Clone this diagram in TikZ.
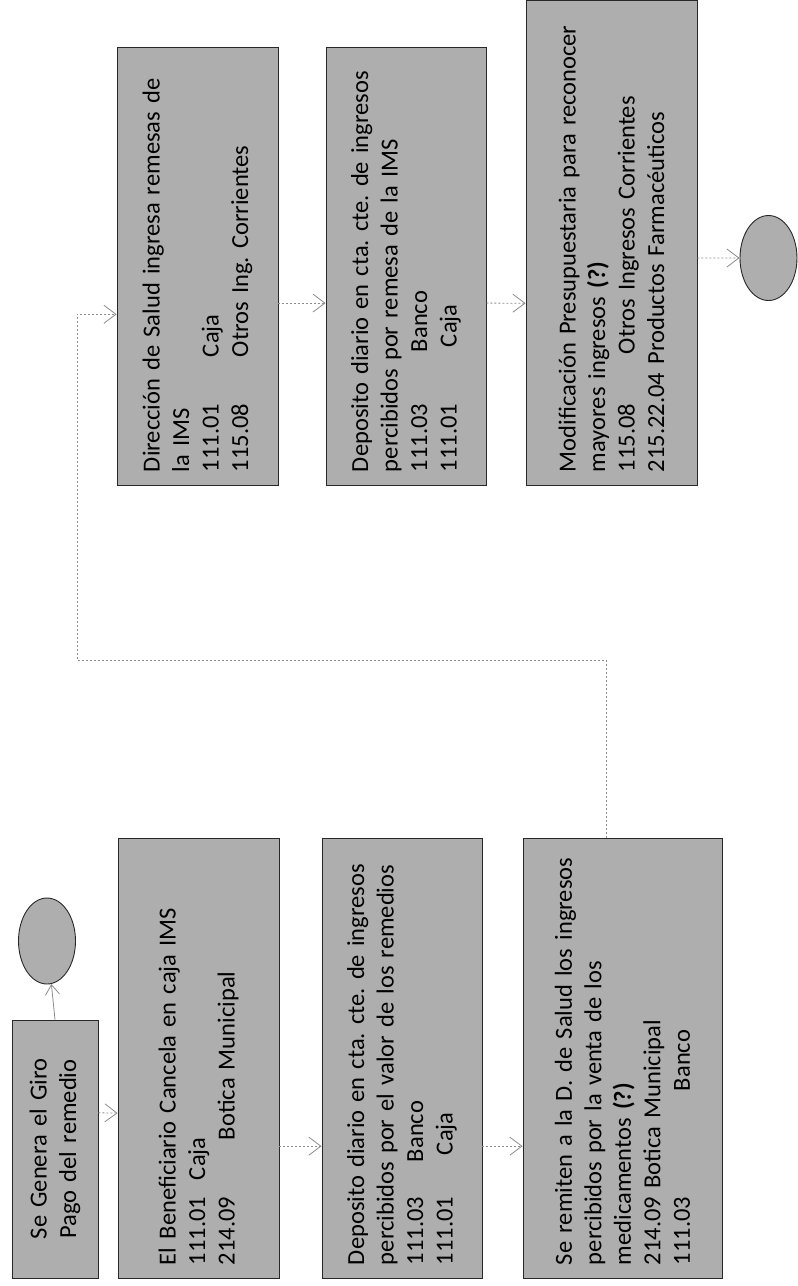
\documentclass[tikz,border=0pt]{standalone}
\usepackage{fontspec}
\setmainfont{Carlito}
\usepackage{tikz}
\usetikzlibrary{arrows.meta,calc,shapes.geometric}
\definecolor{boxgray}{RGB}{174,174,174}
\definecolor{linegray}{RGB}{140,140,140}
\definecolor{edgedark}{RGB}{40,40,40}
\frenchspacing
\hyphenpenalty=10000
\tikzset{
  flowbox/.style={draw=edgedark,line width=0.9pt,fill=boxgray,rotate=90,align=left,inner xsep=13pt,inner ysep=0pt,font=\fontsize{24.5}{29.5}\selectfont\frenchspacing},
  connector/.style={ellipse,draw=edgedark,line width=0.9pt,fill=boxgray,minimum width=57pt,minimum height=86pt,inner sep=0pt},
  flowarrow/.style={linegray,line width=0.8pt,dash pattern=on 2pt off 2pt,-{Straight Barb[length=12pt,width=18pt]}},
  solidarrow/.style={linegray,line width=0.8pt,-{Straight Barb[length=10pt,width=14pt]}}
}

\begin{document}
\begin{tikzpicture}[x=1pt,y=-1pt]
\useasboundingbox (0,0) rectangle (798,1286);
\node[flowbox,align=center,minimum width=258pt,minimum height=86pt,text width=232pt] (giro) at (55,1149) {Se Genera el Giro\\Pago del remedio};
\node[connector] (conA) at (47,941) {};
\node[flowbox,minimum width=440pt,minimum height=161pt,text width=414pt] (cancela) at (198.5,1058) {El Beneficiario Cancela en caja IMS\\\makebox[85pt][l]{111.01}Caja\\\makebox[125pt][l]{214.09}Botica Municipal};
\node[flowbox,minimum width=440pt,minimum height=160pt,text width=414pt] (depcaja) at (402,1058) {Deposito diario en cta. cte. de ingresos\\percibidos por el valor de los remedios\\\makebox[103pt][l]{111.03}Banco\\\makebox[110pt][l]{111.01}Caja};
\node[flowbox,minimum width=440pt,minimum height=199pt,text width=414pt] (remite) at (622.5,1058) {Se remiten a la D. de Salud los ingresos\\percibidos por la venta de los\\medicamentos \textbf{(?)}\\214.09 Botica Municipal\\\makebox[174pt][l]{111.03}Banco};
\node[flowbox,minimum width=438pt,minimum height=161pt,text width=412pt] (ingresa) at (197.5,266) {Dirección de Salud ingresa remesas de\\la IMS\\\makebox[115pt][l]{111.01}Caja\\\makebox[115pt][l]{115.08}Otros Ing. Corrientes};
\node[flowbox,minimum width=438pt,minimum height=160pt,text width=412pt] (depims) at (406,266) {Deposito diario en cta. cte. de ingresos\\percibidos por remesa de la IMS\\\makebox[120pt][l]{111.03}Banco\\\makebox[125pt][l]{111.01}Caja};
\node[flowbox,minimum width=485pt,minimum height=171pt,text width=459pt] (modif) at (611.5,242.5) {Modificación Presupuestaria para reconocer\\mayores ingresos \textbf{(?)}\\\makebox[118pt][l]{115.08}Otros Ingresos Corrientes\\215.22.04 Productos Farmacéuticos};
\node[connector,minimum height=85pt] (conB) at (768.5,258) {};
\draw[solidarrow] (giro.east) -- (conA);
\foreach \a/\fa/\b/\fb in {giro/0.64/cancela/0.375,cancela/0.30/depcaja/0.30,depcaja/0.30/remite/0.30,ingresa/0.4155/depims/0.4155,depims/0.4155/modif/0.375}
  \draw[flowarrow] ($(\a.south west)!\fa!(\a.south east)$) -- ($(\b.north west)!\fb!(\b.north east)$);
\draw[flowarrow] ($(modif.south west)!0.468!(modif.south east)$) -- (conB.west);
\coordinate (bend) at (77,660);
\draw[flowarrow] ($(remite.north east)!0.42!(remite.south east)$) |- (bend) |- ($(ingresa.north west)!0.39!(ingresa.north east)$);
\end{tikzpicture}
\end{document}
